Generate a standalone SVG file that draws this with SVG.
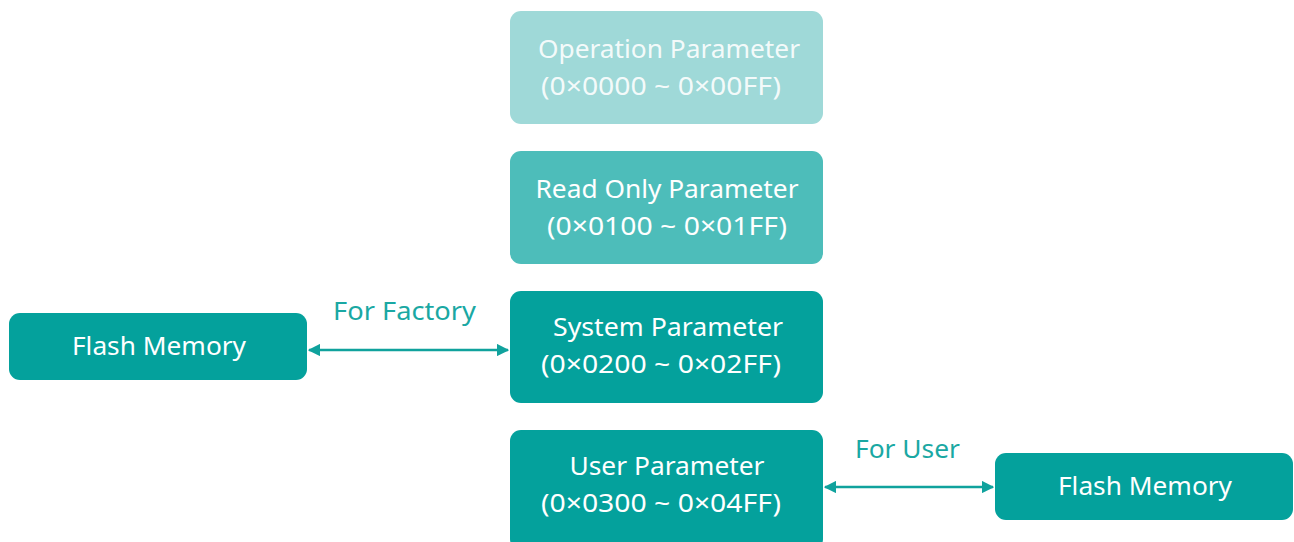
<svg xmlns="http://www.w3.org/2000/svg" width="1294" height="542" viewBox="0 0 1294 542">
<style>
.box{stroke:none}
.t{font-family:"Noto Sans","Liberation Sans",sans-serif;font-size:26px;fill:#ffffff;text-anchor:middle}
.lbl{font-family:"Noto Sans","Liberation Sans",sans-serif;font-size:26px;fill:#1aa8a3;text-anchor:middle}
.conn{stroke:#10a29d;stroke-width:2.5;fill:none}
</style>
<defs>
<marker id="ah" viewBox="0 0 10 10" refX="9" refY="5" markerWidth="5" markerHeight="5" orient="auto-start-reverse">
<path d="M0,0 L10,5 L0,10 z" fill="#10a29d"/>
</marker>
</defs>
<rect width="1294" height="542" fill="#ffffff"/>
<g id="operation-parameter">
<rect class="box" x="510" y="11" width="313" height="113" rx="11" fill="#9fd9d8"/>
<text class="t" x="669" y="58" fill-opacity="0.9" textLength="262" lengthAdjust="spacingAndGlyphs">Operation Parameter</text>
<text class="t" x="661" y="95" fill-opacity="0.9" textLength="240" lengthAdjust="spacingAndGlyphs">(0×0000 ~ 0×00FF)</text>
</g>
<g id="read-only-parameter">
<rect class="box" x="510" y="151" width="313" height="113" rx="11" fill="#4dbdba"/>
<text class="t" x="667" y="198" textLength="263" lengthAdjust="spacingAndGlyphs">Read Only Parameter</text>
<text class="t" x="667" y="235" textLength="240" lengthAdjust="spacingAndGlyphs">(0×0100 ~ 0×01FF)</text>
</g>
<g id="system-parameter">
<rect class="box" x="510" y="291" width="313" height="112" rx="11" fill="#04a19c"/>
<text class="t" x="668" y="336" textLength="230" lengthAdjust="spacingAndGlyphs">System Parameter</text>
<text class="t" x="661" y="373" textLength="240" lengthAdjust="spacingAndGlyphs">(0×0200 ~ 0×02FF)</text>
</g>
<g id="user-parameter">
<rect class="box" x="510" y="430" width="313" height="120" rx="11" fill="#04a19c"/>
<text class="t" x="667" y="475" textLength="195" lengthAdjust="spacingAndGlyphs">User Parameter</text>
<text class="t" x="661" y="512" textLength="240" lengthAdjust="spacingAndGlyphs">(0×0300 ~ 0×04FF)</text>
</g>
<g id="flash-memory-factory">
<rect class="box" x="9" y="313" width="298" height="67" rx="11" fill="#04a19c"/>
<text class="t" x="159" y="355" textLength="174" lengthAdjust="spacingAndGlyphs">Flash Memory</text>
</g>
<g id="flash-memory-user">
<rect class="box" x="995" y="453" width="298" height="67" rx="11" fill="#04a19c"/>
<text class="t" x="1145" y="495" textLength="174" lengthAdjust="spacingAndGlyphs">Flash Memory</text>
</g>
<g id="connectors">
<line class="conn" x1="309" y1="350" x2="508" y2="350" marker-start="url(#ah)" marker-end="url(#ah)"/>
<text class="lbl" x="404.5" y="320" fill="#5cc0bc" textLength="143" lengthAdjust="spacingAndGlyphs">For Factory</text>
<line class="conn" x1="825" y1="487" x2="993" y2="487" marker-start="url(#ah)" marker-end="url(#ah)"/>
<text class="lbl" x="907.5" y="458" textLength="105" lengthAdjust="spacingAndGlyphs">For User</text>
</g>
</svg>
